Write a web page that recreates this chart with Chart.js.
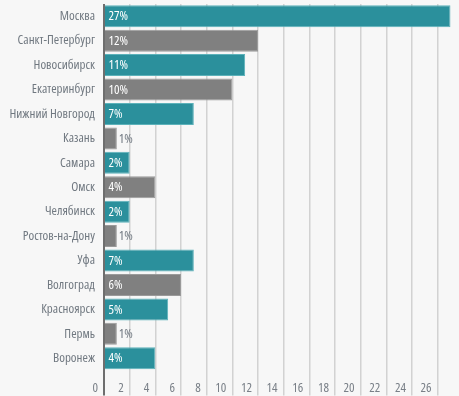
<!DOCTYPE html>
<html>
<head>
<meta charset="utf-8">
<script src="https://cdn.jsdelivr.net/npm/chart.js@4/dist/chart.umd.min.js"></script>
<style>
  html, body { margin: 0; padding: 0; background: #f7f7f7; }
  #wrap { width: 459px; height: 396px; position: relative; }
</style>
</head>
<body>
<div id="wrap"><canvas id="c"></canvas></div>
<script>
const categories = ['Москва', 'Санкт-Петербург', 'Новосибирск', 'Екатеринбург', 'Нижний Новгород', 'Казань', 'Самара', 'Омск', 'Челябинск', 'Ростов-на-Дону', 'Уфа', 'Волгоград', 'Красноярск', 'Пермь', 'Воронеж'];
const shares = [27, 12, 11, 10, 7, 1, 2, 4, 2, 1, 7, 6, 5, 1, 4];
const tickValues = [0, 2, 4, 6, 8, 10, 12, 14, 16, 18, 20, 22, 24, 26];

const FAMILY = "'Open Sans', 'DejaVu Sans Condensed', sans-serif";
const SIZE = 13;
const TEAL = '#2b909c', TEAL_B = '#5cb2ba';
const GRAY = '#808080', GRAY_B = '#9a9a9a';

const barColors = categories.map((_, i) => i % 2 === 0 ? TEAL : GRAY);
const barBorders = categories.map((_, i) => i % 2 === 0 ? TEAL_B : GRAY_B);

const labelPlugin = {
  id: 'barLabels',
  afterDatasetsDraw(chart) {
    const ctx = chart.ctx;
    const meta = chart.getDatasetMeta(0);
    ctx.save();
    ctx.font = 'condensed ' + SIZE + 'px ' + FAMILY;
    ctx.textBaseline = 'middle';
    ctx.textAlign = 'left';
    meta.data.forEach((bar, i) => {
      const text = shares[i] + '%';
      const w = ctx.measureText(text).width;
      const left = Math.min(bar.base, bar.x);
      const right = Math.max(bar.base, bar.x);
      if (w + 6 < right - left) {
        ctx.fillStyle = '#ffffff';
        ctx.fillText(text, left + 3.5, bar.y + 0.5);
      } else {
        ctx.fillStyle = '#707880';
        ctx.fillText(text, right + 2, bar.y + 0.5);
      }
    });
    ctx.restore();
  }
};

new Chart(document.getElementById('c'), {
  type: 'bar',
  data: {
    labels: categories,
    datasets: [{
      data: shares,
      backgroundColor: barColors,
      borderColor: barBorders,
      borderWidth: 1,
      categoryPercentage: 1,
      barPercentage: 0.9
    }]
  },
  options: {
    indexAxis: 'y',
    responsive: true,
    maintainAspectRatio: false,
    animation: false,
    layout: { padding: { top: 4, right: 3.4, bottom: 0, left: 0 } },
    plugins: { legend: { display: false }, tooltip: { enabled: false } },
    scales: {
      x: {
        min: 0,
        max: 27.4,
        afterBuildTicks(scale) { scale.ticks = tickValues.map(v => ({ value: v })); },
        afterFit(scale) {
          scale.height = 25.5;
          scale.paddingLeft = 0; scale.paddingRight = 0;
        },
        border: { display: false },
        grid: {
          color: c => (c.tick && c.tick.value === 0) ? '#6e6e6e' : '#d2d2d2',
          lineWidth: c => (c.tick && c.tick.value === 0) ? 2 : 1.5,
          tickLength: 25
        },
        ticks: {
          align: 'end',
          labelOffset: -6,
          padding: -15.5,
          color: '#7a8088',
          font: { family: FAMILY, size: SIZE, weight: 'condensed' },
          maxRotation: 0,
          autoSkip: false
        }
      },
      y: {
        afterFit(scale) {
          scale.width = 104;
          scale.paddingTop = 0; scale.paddingBottom = 0;
        },
        border: { display: false },
        grid: { display: false, drawTicks: false },
        ticks: {
          padding: 9,
          color: '#707880',
          font: { family: FAMILY, size: SIZE, weight: 'condensed' },
          autoSkip: false
        }
      }
    }
  },
  plugins: [labelPlugin]
});
</script>
</body>
</html>
